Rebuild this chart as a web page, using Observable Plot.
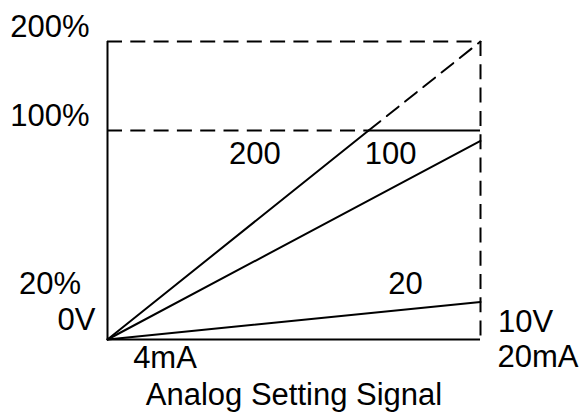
<!DOCTYPE html>
<html><head><meta charset="utf-8">
<script src="https://cdn.jsdelivr.net/npm/d3@7"></script>
<script src="https://cdn.jsdelivr.net/npm/@observablehq/plot@0.6"></script>
<style>body{margin:0;background:#fff}</style>
</head><body><div id="chart"></div>
<script>
// Signal (fraction of full scale) and output level (%)
const signalDomain = [0, 1];
const levelBreaks = [0, 100, 200];
const levelDrawn = [0, 100, 142.6]; // the chart compresses the 100–200% band
const levelTicks = [200, 100, 20];
const levelLabels = ["200%", "100%", "20%"];
const signalMinLabels = ["0V", "4mA"];
const signalMaxLabels = ["10V", "20mA"];
const axisTitle = "Analog Setting Signal";

// Gain curves: output at full signal
const gainNames = ["200", "100", "20"];
const gainEndLevel = [200, 95, 18];
// the 200 curve reaches 100% at this signal, then continues dashed
const kneeSignal = 0.7;
const kneeLevel = 100;

// Gain label anchors (signal, level)
const gainLabelSignal = [0.395, 0.759, 0.799];
const gainLabelLevel = [88.8, 88.8, 26.6];

const font = "'Liberation Sans', Arial, sans-serif";
const dash = "15,8.3";
const sw = 2;

const lines100 = [{x: 0, y: 0}, {x: 1, y: gainEndLevel[1]}];
const lines20 = [{x: 0, y: 0}, {x: 1, y: gainEndLevel[2]}];
const line200a = [{x: 0, y: 0}, {x: kneeSignal, y: kneeLevel}];
const line200b = [{x: kneeSignal, y: kneeLevel}, {x: 1, y: gainEndLevel[0]}];

const topLevel = levelBreaks[levelBreaks.length - 1];
const gainLabels = gainNames.map((t, i) => ({t, x: gainLabelSignal[i], y: gainLabelLevel[i]}));
const tickLabels = levelTicks.map((v, i) => ({v, t: levelLabels[i]}));
const levelMap = d3.scaleLinear().domain(levelBreaks).range(levelDrawn);

const chart = Plot.plot({
  width: 581,
  height: 414,
  marginLeft: 0, marginRight: 0, marginTop: 0, marginBottom: 0,
  style: {fontFamily: font, background: "#fff"},
  x: {domain: signalDomain, range: [107, 480], axis: null},
  y: {transform: v => levelMap(v), domain: [levelDrawn[0], levelDrawn[2]], range: [339, 41], axis: null},
  marks: [
    // frame
    Plot.ruleX([signalDomain[0]], {y1: 0, y2: topLevel, stroke: "#000", strokeWidth: sw}),
    Plot.ruleY([0], {x1: signalDomain[0], x2: signalDomain[1], stroke: "#000", strokeWidth: sw}),
    Plot.ruleY([topLevel], {x1: signalDomain[0], x2: signalDomain[1], stroke: "#000", strokeWidth: sw, strokeDasharray: dash}),
    Plot.ruleX([signalDomain[1]], {y1: topLevel, y2: 0, stroke: "#000", strokeWidth: sw, strokeDasharray: dash}),
    // 100% level
    Plot.ruleY([kneeLevel], {x1: signalDomain[0], x2: kneeSignal, stroke: "#000", strokeWidth: sw, strokeDasharray: dash}),
    Plot.ruleY([kneeLevel], {x1: kneeSignal, x2: signalDomain[1], stroke: "#000", strokeWidth: sw}),
    // gain lines
    Plot.line(line200a, {x: "x", y: "y", stroke: "#000", strokeWidth: sw}),
    Plot.line(line200b, {x: "x", y: "y", stroke: "#000", strokeWidth: sw, strokeDasharray: dash}),
    Plot.line(lines100, {x: "x", y: "y", stroke: "#000", strokeWidth: sw}),
    Plot.line(lines20, {x: "x", y: "y", stroke: "#000", strokeWidth: sw}),
    // labels
    Plot.text(tickLabels, {x: () => signalDomain[0], y: "v", text: "t", dx: -57.5, dy: -14, fontSize: 31, fill: "#000"}),
    Plot.text([signalMinLabels[0]], {x: () => signalDomain[0], y: () => 0, text: d => d, dx: -31, dy: -19, fontSize: 31, fill: "#000"}),
    Plot.text([signalMinLabels[1]], {x: () => signalDomain[0], y: () => 0, text: d => d, dx: 57.5, dy: 19, fontSize: 31, fill: "#000"}),
    Plot.text([signalMaxLabels[0]], {x: () => signalDomain[1], y: () => 0, text: d => d, dx: 45, dy: -17, fontSize: 31, fill: "#000"}),
    Plot.text([signalMaxLabels[1]], {x: () => signalDomain[1], y: () => 0, text: d => d, dx: 57.5, dy: 18, fontSize: 31, fill: "#000"}),
    Plot.text([axisTitle], {x: () => (signalDomain[0] + signalDomain[1]) / 2, y: () => 0, text: d => d, dy: 56, fontSize: 31, fill: "#000"}),
    Plot.text(gainLabels, {x: "x", y: "y", text: "t", fontSize: 31, fill: "#000"})
  ]
});
document.getElementById("chart").appendChild(chart);
</script>
</body></html>
